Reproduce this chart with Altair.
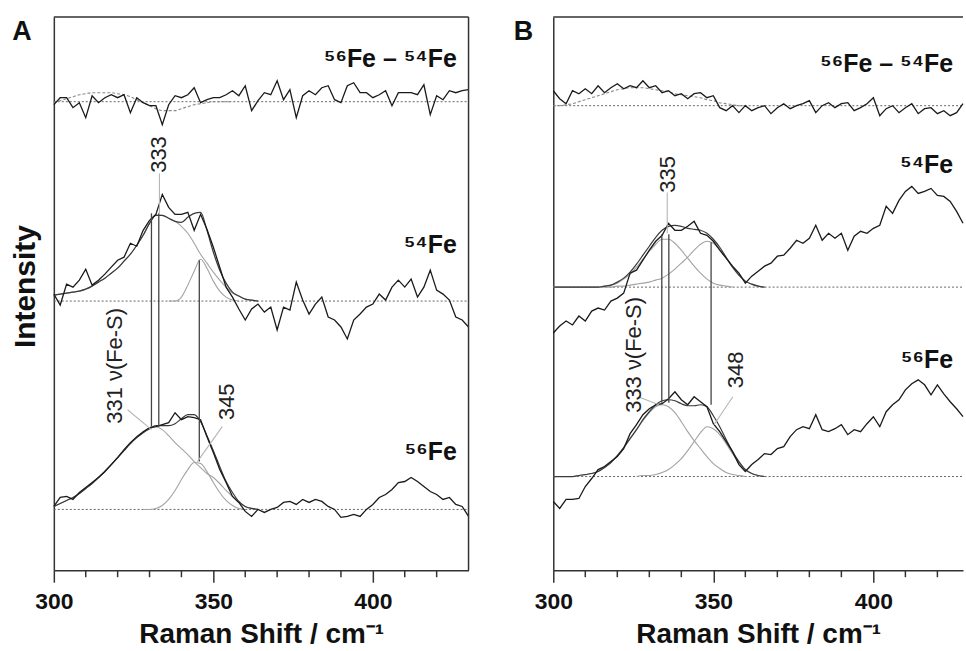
import altair as alt
import pandas as pd

FONT = "Liberation Sans"

# ---------------- data ----------------
# Raman shift sampling (cm-1)
X_A = list(range(300, 431, 2))
X_B = list(range(300, 429, 2))

# vertical offsets of the stacked spectra (plot units, 1 unit = 1 px)
BASE_A = {"diff": 470, "fe54": 270, "fe56": 61}
BASE_B = {"diff": 466, "fe54": 284, "fe56": 94}

# ---- panel A (values relative to each spectrum's baseline) ----
A_DIFF = [-3, 4, 4, -6, -1, -16, 6, -1, 4, 7, 4, 7, -11, 4, -1, -4, -4, -23, -3, 6,
          4, 7, 14, -1, 2, 4, 4, 7, 11, 6, 16, -9, 1, 9, 7, 21, 2, 12, -16, 6,
          11, 7, 14, 16, 2, -1, 16, 19, 9, 9, 4, 7, 11, -4, 9, 9, 9, 7, 17, -13,
          6, 2, 11, 9, 11, 12]
A_DIFF_FIT = [-1, 1, 3, 5, 7, 8, 9, 9, 9, 9, 8, 7, 5, 2, -1, -4, -7, -9, -9, -9,
              -7, -5, -3, -2, -1, 0, 0, 0, 0]                      # from 300
A_54 = [7, -4, 17, 14, 21, 32, 16, 21, 27, 34, 41, 44, 58, 55, 71, 81, 87, 107, 94, 87,
        87, 89, 71, 87, 72, 54, 34, 14, 4, -8, -19, -8, -3, -11, -6, -29, -6, -9, 19, 1,
        -13, -3, 4, -16, -19, -26, -38, -19, -13, -6, -3, 7, 1, 14, 21, 14, 22, 4, 14, 31,
        11, 7, 1, -16, -19, -26]
A_54_C1 = [6, 7, 8, 9, 10, 12, 15, 19, 23, 28, 33, 40, 47, 56, 66, 78, 86, 86, 83, 80,
           75, 68, 58, 47, 38, 29, 21, 14, 8, 5, 2, 1, 0]            # from 300
A_54_C2 = [0, 0, 4, 16, 30, 42, 33, 20, 10, 4, 1, 0]                  # from 336
A_56 = [3, 12, 13, 10, 17, 22, 27, 32, 38, 45, 52, 60, 67, 73, 78, 82, 83, 85, 87, 97,
        90, 93, 92, 90, 73, 57, 40, 27, 13, 7, -2, -7, 0, -3, 0, 2, 7, 8, 5, 10,
        7, 10, 8, 3, 0, -8, -7, -5, -7, 0, 5, 12, 15, 20, 27, 28, 32, 28, 23, 18,
        15, 10, 12, 5, 3, -7]
A_56_C1 = [3, 6, 9, 12, 16, 21, 26, 32, 38, 45, 52, 59, 66, 72, 77, 81, 83, 80, 74, 67,
           61, 55, 48, 42, 36, 32, 26, 19, 13, 7, 3, 1, 0]            # from 300
A_56_C2 = [0, 0, 1, 4, 10, 19, 30, 40, 47, 46, 38, 27, 17, 9, 4, 1, 0]  # from 328

# ---- panel B ----
B_DIFF = [15, 7, 2, 15, 12, 17, 12, 20, 13, 18, 22, 17, 20, 18, 25, 18, 20, 13, 15, 10,
          12, 7, 12, 13, 8, 10, -2, -5, 0, -7, 0, -5, -2, 0, -8, -2, 2, -3, 0, 2,
          5, -7, 0, 3, -2, 2, 3, -5, -2, 2, 8, -10, -3, 0, -7, -2, 2, -8, -3, -2,
          -8, -5, -10, -7, 2]
B_DIFF_FIT = [0, 0, 1, 2, 4, 6, 8, 10, 12, 14, 16, 17, 18, 18, 18, 17, 16, 15, 14, 12,
              11, 10, 9, 8, 6, 5, 3, 2, 1, 0, 0]                    # from 300
B_54 = [-46, -39, -34, -38, -29, -34, -24, -21, -23, -14, -11, -6, 14, 17, 27, 37, 46, 52, 64, 57,
        57, 61, 66, 54, 52, 46, 37, 29, 21, 14, 4, 11, 16, 21, 24, 31, 32, 39, 47, 44,
        49, 62, 47, 54, 49, 54, 37, 51, 56, 54, 59, 62, 81, 74, 87, 96, 101, 94, 96, 99,
        92, 91, 86, 76, 64]
B_54_C1 = [0, 0, 0, 0, 0, 0, 0, 0,
           1, 2, 4, 8, 13, 20, 28, 36, 43, 48, 48, 44, 37, 29, 21, 14, 8, 4, 2, 1, 0]  # from 300
B_54_C2 = [0, 0, 0, 0, 0, 0, 0, 0, 0,
           0, 1, 1, 2, 3, 4, 5, 7, 9, 13, 18, 24, 30, 37, 43, 46, 44, 38, 29, 20,
           12, 6, 3, 1, 0]                                          # from 300
B_56 = [-25, -32, -23, -23, -22, -10, -2, 7, 10, 15, 20, 28, 43, 52, 62, 68, 72, 73, 78, 85,
        77, 72, 80, 75, 70, 53, 45, 35, 25, 12, 5, 12, 17, 23, 22, 28, 30, 40, 47, 50,
        48, 62, 47, 45, 48, 52, 42, 47, 45, 53, 60, 50, 65, 72, 77, 87, 93, 97, 92, 82,
        92, 83, 75, 68, 60]
B_56_C1 = [0, 0, 0, 0,
           1, 2, 3, 5, 9, 14, 21, 29, 38, 47, 56, 64, 70, 72, 70, 64, 55, 45, 36, 28,
           20, 13, 8, 4, 2, 1, 0]                                   # from 300
B_56_C2 = [0, 1, 1, 2, 4, 7, 12, 18, 26, 35, 44, 50, 48, 42, 33, 23, 14, 7, 3, 1, 0]  # from 326

# connector lines between isotopologue peaks
CONN_A_X = [330.6, 332.9, 345.6]
CONN_A_Y = [144, 144, 109]
CONN_A_Y2 = [358, 358, 311]
CONN_B_X = [333.9, 336.1, 349.3]
CONN_B_Y = [168, 168, 166]
CONN_B_Y2 = [337, 337, 329]

# leader lines from peak labels
LEAD_A = {"x": [333.1, 323.1, 352.8], "y": [358, 161, 144],
          "x2": [333.1, 330.6, 345.0], "y2": [398, 141, 109]}
LEAD_B = {"x": [335.6, 326.5, 356.1], "y": [338, 174, 174],
          "x2": [335.6, 333.0, 350.2], "y2": [379, 166, 146]}

PEAK_A = {"t": ["333", "331 \u03bd(Fe-S)", "345"], "x": [333.1, 319.1, 354.4], "y": [417, 205, 169]}
PEAK_B = {"t": ["335", "333 \u03bd(Fe-S)", "348"], "x": [335.8, 325.2, 357.0], "y": [397, 216, 201]}

ISO_TEXT = ["\u2075\u2076Fe \u2013 \u2075\u2074Fe", "\u2075\u2074Fe", "\u2075\u2076Fe"]
ISO_A_Y = [513, 326, 119]
ISO_B_Y = [508, 406, 211]

MAJOR_TICKS = [300, 350, 400]
MINOR_TICKS = [310, 320, 330, 340, 360, 370, 380, 390, 410, 420]


# ---------------- helpers ----------------
def series(start, vals, base, name):
    xs = [start + 2 * i for i in range(len(vals))]
    return pd.DataFrame({"x": xs, "y": [base + v for v in vals], "s": name})


def fit_total(c1, s1, c2, s2, base, name):
    tot = {}
    for i, v in enumerate(c1):
        tot[s1 + 2 * i] = tot.get(s1 + 2 * i, 0) + v
    for i, v in enumerate(c2):
        tot[s2 + 2 * i] = tot.get(s2 + 2 * i, 0) + v
    xs = sorted(tot)
    return pd.DataFrame({"x": xs, "y": [base + tot[x] for x in xs], "s": name})


def panel(p):
    xmax = p["xmax"]
    sx = alt.Scale(domain=[300, xmax], nice=False, zero=False)
    sy = alt.Scale(domain=[0, 555], nice=False, zero=False)
    ax = alt.Axis(values=MAJOR_TICKS, tickSize=12, tickWidth=1.5, tickColor="#333",
                  domainColor="#333", domainWidth=1.5, grid=False,
                  labelFont=FONT, labelFontSize=23, labelFontWeight="bold",
                  labelColor="#111", labelPadding=8, labelFlush=False,
                  titleFont=FONT, titleFontSize=28, titleFontWeight="bold",
                  titleColor="#111", titleY=64, titleBaseline="middle")
    if p["ytitle"]:
        ay = alt.Axis(labels=False, ticks=False, domainColor="#333", domainWidth=1.5,
                      grid=False, titleFont=FONT, titleFontSize=30,
                      titleFontWeight="bold", titleColor="#111", titleAngle=270,
                      titleAlign="center", titleBaseline="middle", titleX=-28, titleY=270)
    else:
        ay = alt.Axis(labels=False, ticks=False, domainColor="#333", domainWidth=1.5,
                      grid=False)

    def X(f="x"):
        return alt.X(f + ":Q", scale=sx, axis=ax, title="Raman Shift / cm\u207b\u00b9")

    def Y(f="y"):
        if p["ytitle"]:
            return alt.Y(f + ":Q", scale=sy, axis=ay, title="Intensity")
        return alt.Y(f + ":Q", scale=sy, axis=ay, title=None)

    base = p["base"]
    traces = pd.concat([
        series(300, p["diff"], base["diff"], "diff"),
        series(300, p["fe54"], base["fe54"], "fe54"),
        series(300, p["fe56"], base["fe56"], "fe56"),
    ])
    comps = pd.concat([
        series(p["c54"][1], p["c54"][0], base["fe54"], "c541"),
        series(p["c54"][3], p["c54"][2], base["fe54"], "c542"),
        series(p["c56"][1], p["c56"][0], base["fe56"], "c561"),
        series(p["c56"][3], p["c56"][2], base["fe56"], "c562"),
    ])
    totals = pd.concat([
        fit_total(p["c54"][0], p["c54"][1], p["c54"][2], p["c54"][3], base["fe54"], "t54"),
        fit_total(p["c56"][0], p["c56"][1], p["c56"][2], p["c56"][3], base["fe56"], "t56"),
    ])
    difffit = series(300, p["difffit"], base["diff"], "dfit")
    baselines = pd.DataFrame({"x": [300] * 3, "x2": [xmax] * 3,
                              "y": [base["diff"], base["fe54"], base["fe56"]]})

    layers = []
    layers.append(alt.Chart(baselines).mark_rule(color="#666", strokeWidth=1, strokeDash=[2, 2])
                  .encode(x=X(), x2="x2:Q", y=Y()))
    layers.append(alt.Chart(comps).mark_line(color="#a3a3a3", strokeWidth=1.1, interpolate="monotone")
                  .encode(x=X(), y=Y(), detail="s:N"))
    layers.append(alt.Chart(difffit).mark_line(color="#888", strokeWidth=1.1, strokeDash=[3, 2],
                                               interpolate="monotone")
                  .encode(x=X(), y=Y(), detail="s:N"))
    layers.append(alt.Chart(totals).mark_line(color="#3a3a3a", strokeWidth=1.2, interpolate="monotone")
                  .encode(x=X(), y=Y(), detail="s:N"))
    layers.append(alt.Chart(traces).mark_line(color="#1a1a1a", strokeWidth=1.3)
                  .encode(x=X(), y=Y(), detail="s:N"))
    conn = pd.DataFrame({"x": p["conn"][0], "y": p["conn"][1], "y2": p["conn"][2]})
    layers.append(alt.Chart(conn).mark_rule(color="#444", strokeWidth=1.3)
                  .encode(x=X(), y=Y(), y2="y2:Q"))
    lead = pd.DataFrame(p["lead"])
    layers.append(alt.Chart(lead).mark_rule(color="#b5b5b5", strokeWidth=1.1)
                  .encode(x=X(), y=Y(), x2="x2:Q", y2="y2:Q"))
    layers.append(alt.Chart(pd.DataFrame(p["peak"])).mark_text(
        font=FONT, fontSize=22, angle=270, align="center", baseline="middle", color="#222")
        .encode(x=X(), y=Y(), text="t:N"))
    iso = pd.DataFrame({"t": ISO_TEXT, "x": [p["isox"]] * 3, "y": p["isoy"]})
    layers.append(alt.Chart(iso).mark_text(
        font=FONT, fontSize=25, fontWeight="bold", align="right", baseline="middle", color="#111")
        .encode(x=X(), y=Y(), text="t:N"))
    ticks = pd.DataFrame({"x": MINOR_TICKS})
    layers.append(alt.Chart(ticks).mark_rule(color="#333", strokeWidth=1.5)
                  .encode(x=X(), y=alt.value(555), y2=alt.value(562)))
    frame = pd.DataFrame({"x": [300], "x2": [xmax], "y": [555]})
    layers.append(alt.Chart(frame).mark_rule(color="#333", strokeWidth=1.5)
                  .encode(x=X(), x2="x2:Q", y=Y()))
    if p["right_frame"]:
        rf = pd.DataFrame({"x": [xmax], "y": [0], "y2": [555]})
        layers.append(alt.Chart(rf).mark_rule(color="#333", strokeWidth=1.5)
                      .encode(x=X(), y=Y(), y2="y2:Q"))
    letter = pd.DataFrame({"t": [p["letter"]]})
    layers.append(alt.Chart(letter).mark_text(
        font=FONT, fontSize=27, fontWeight="bold", align="center", baseline="middle", color="#111")
        .encode(x=alt.value(p["letter_dx"]), y=alt.value(15), text="t:N"))
    return alt.layer(*layers).properties(width=p["width"], height=555)


pA = panel({
    "xmax": 430, "width": 416, "ytitle": True, "right_frame": True,
    "base": BASE_A, "diff": A_DIFF, "fe54": A_54, "fe56": A_56, "difffit": A_DIFF_FIT,
    "c54": (A_54_C1, 300, A_54_C2, 336), "c56": (A_56_C1, 300, A_56_C2, 328),
    "conn": (CONN_A_X, CONN_A_Y, CONN_A_Y2), "lead": LEAD_A, "peak": PEAK_A,
    "isox": 426.3, "isoy": ISO_A_Y, "letter": "A", "letter_dx": -32,
})
pB = panel({
    "xmax": 428, "width": 411, "ytitle": False, "right_frame": False,
    "base": BASE_B, "diff": B_DIFF, "fe54": B_54, "fe56": B_56, "difffit": B_DIFF_FIT,
    "c54": (B_54_C1, 300, B_54_C2, 300), "c56": (B_56_C1, 300, B_56_C2, 326),
    "conn": (CONN_B_X, CONN_B_Y, CONN_B_Y2), "lead": LEAD_B, "peak": PEAK_B,
    "isox": 424.9, "isoy": ISO_B_Y, "letter": "B", "letter_dx": -30,
})

chart = alt.hconcat(pA, pB, spacing=85, bounds="flush").properties(
    padding={"left": 11, "top": 15, "right": 0, "bottom": 0},
    background="white",
).configure_view(strokeWidth=0)

chart.save("out.html", embed_options={"renderer": "svg", "actions": False})
